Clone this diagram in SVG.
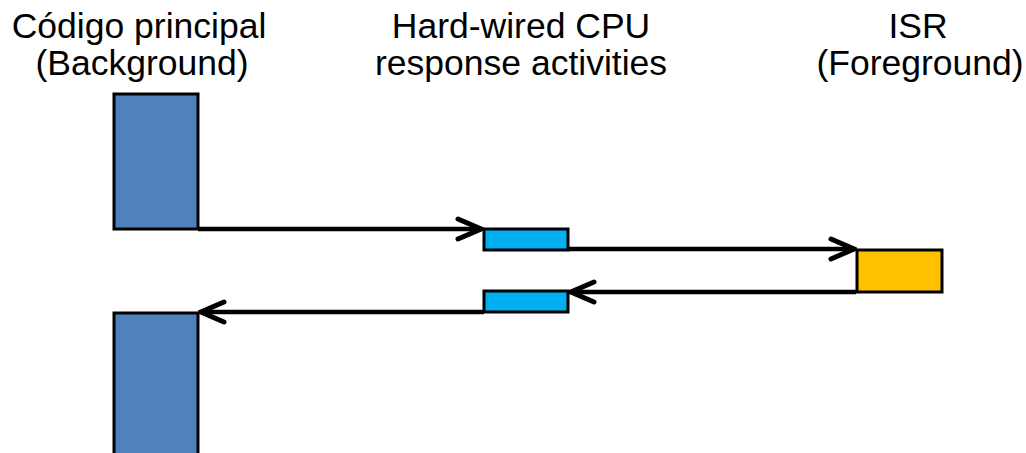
<svg xmlns="http://www.w3.org/2000/svg" width="1026" height="453" viewBox="0 0 1026 453">
<defs>
<style>
.t{font-family:"Liberation Sans",Arial,sans-serif;font-size:35.5px;fill:#000;text-anchor:middle}
.box{stroke:#000;stroke-width:3}
.main{fill:#4F81BD}
.hw{fill:#00B0F0}
.isr{fill:#FFC000}
.c{stroke:#000;stroke-width:4.5;fill:none;marker-end:url(#ah)}
</style>
<marker id="ah" viewBox="-4 -14 30 28" refX="23" refY="0" markerWidth="30" markerHeight="28" orient="auto" markerUnits="userSpaceOnUse">
<path d="M0,-10 L23,0 L0,10" fill="none" stroke="#000" stroke-width="5" stroke-linecap="round" stroke-linejoin="miter"/>
</marker>
</defs>
<rect width="1026" height="453" fill="#fff"/>
<g id="labels">
<text class="t" x="139" y="38">Código principal</text>
<text class="t" x="142" y="75">(Background)</text>
<text class="t" x="521" y="38">Hard-wired CPU</text>
<text class="t" x="521" y="75">response activities</text>
<text class="t" x="918" y="38">ISR</text>
<text class="t" x="920" y="75">(Foreground)</text>
</g>
<g id="main1"><rect class="box main" x="114" y="94" width="84" height="135"/></g>
<g id="main2"><rect class="box main" x="114" y="313" width="84" height="145"/></g>
<g id="hw1"><rect class="box hw" x="484" y="229" width="84" height="21"/></g>
<g id="hw2"><rect class="box hw" x="484" y="291" width="84" height="21"/></g>
<g id="isr"><rect class="box isr" x="857" y="250" width="85" height="42"/></g>
<g id="connectors">
<path class="c" d="M198,229 H481"/>
<path class="c" d="M568,249 H854"/>
<path class="c" d="M856,292 H571"/>
<path class="c" d="M484,312 H201"/>
</g>
</svg>
